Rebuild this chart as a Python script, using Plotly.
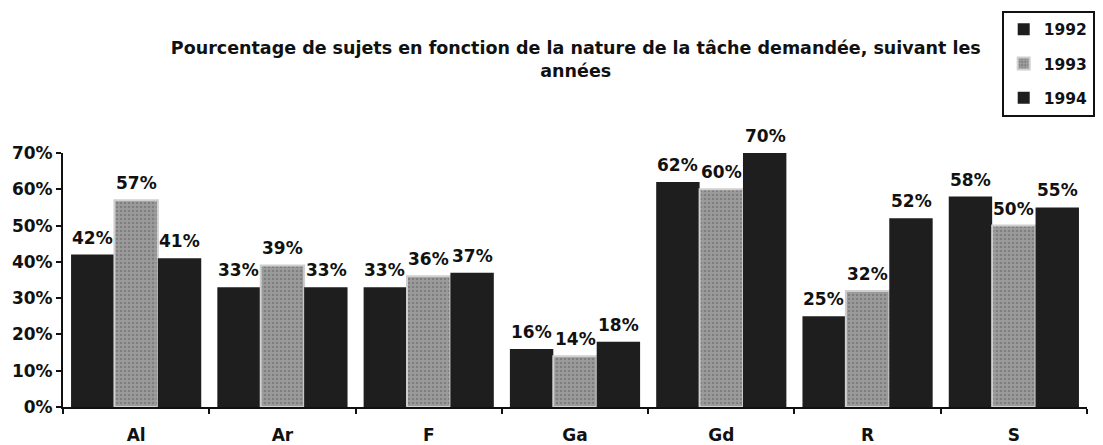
import plotly.graph_objects as go

categories = ["Al", "Ar", "F", "Ga", "Gd", "R", "S"]
years = ["1992", "1993", "1994"]
values_1992 = [0.42, 0.33, 0.33, 0.16, 0.62, 0.25, 0.58]
values_1993 = [0.57, 0.39, 0.36, 0.14, 0.60, 0.32, 0.50]
values_1994 = [0.41, 0.33, 0.37, 0.18, 0.70, 0.52, 0.55]
y_ticks = [0, 0.1, 0.2, 0.3, 0.4, 0.5, 0.6, 0.7]

FONT = "DejaVu Sans, Verdana, sans-serif"
DARK = "#1e1e1e"
INK = "#111111"

W, H = 1103, 445
M = dict(l=63, r=8, t=153, b=38)
BARGAP = 0.11

fig = go.Figure()

series = [values_1992, values_1993, values_1994]
for year, vals in zip(years, series):
    if year == "1993":
        marker = dict(color="#8a8a8a",
                      pattern=dict(shape=".", fgcolor="#626262", bgcolor="#9c9c9c",
                                   size=4, solidity=0.35),
                      line=dict(color="#cfcfcf", width=2))
    else:
        marker = dict(color=DARK, line=dict(width=0))
    fig.add_trace(go.Bar(name=year, x=categories, y=vals, marker=marker,
                         legendgroup=year))

# value labels above each bar, offset horizontally to sit over their bar
plot_w = W - M["l"] - M["r"]
cat_px = plot_w / len(categories)
bar_px = cat_px * (1 - BARGAP) / len(years)
for k, vals in enumerate(series):
    shift = (k - 1) * bar_px
    for cat, v in zip(categories, vals):
        fig.add_annotation(
            x=cat, y=v, text=f"{v:.0%}", showarrow=False,
            xanchor="center", yanchor="bottom", xshift=shift, yshift=5,
            font=dict(family=FONT, size=17, color=INK, weight="bold"),
        )

fig.update_layout(
    width=W, height=H, margin=M,
    paper_bgcolor="white", plot_bgcolor="white",
    barmode="group", bargap=BARGAP, bargroupgap=0,
    font=dict(family=FONT, color=INK),
    title=dict(
        text="Pourcentage de sujets en fonction de la nature de la tâche demandée, suivant les<br>années",
        x=0.522, xanchor="center", y=0.878, yanchor="middle",
        font=dict(family=FONT, size=17.5, color=INK, weight="bold"),
    ),
    legend=dict(
        x=0.9167, xanchor="left", y=1.56, yanchor="top",
        bordercolor=INK, borderwidth=2, bgcolor="white",
        font=dict(family=FONT, size=15.5, color=INK, weight="bold"),
        tracegroupgap=11, itemwidth=30,
    ),
    xaxis=dict(
        showline=True, linecolor=INK, linewidth=2,
        ticks="outside", ticklen=5, tickwidth=2, tickcolor=INK,
        tickson="boundaries", showgrid=False, automargin=False,
        tickfont=dict(family=FONT, size=17, color=INK, weight="bold"),
        ticklabelstandoff=12,
    ),
    yaxis=dict(
        range=[0, 0.70], tickvals=y_ticks, tickformat=".0%",
        showline=True, linecolor=INK, linewidth=2,
        ticks="outside", ticklen=5, tickwidth=2, tickcolor=INK,
        showgrid=False, zeroline=False, automargin=False,
        tickfont=dict(family=FONT, size=17, color=INK, weight="bold"),
    ),
    # inner half of the cross-shaped tick marks on the value axis
    yaxis2=dict(
        overlaying="y", range=[0, 0.70], tickvals=y_ticks,
        showticklabels=False, ticks="inside", ticklen=5, tickwidth=2,
        tickcolor=INK, showgrid=False, zeroline=False, showline=False,
        automargin=False,
    ),
)

fig.write_html("out.html")
